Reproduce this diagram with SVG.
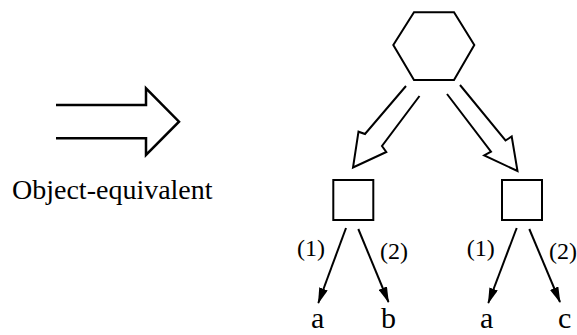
<svg xmlns="http://www.w3.org/2000/svg" width="577" height="335" viewBox="0 0 577 335">
<defs>
<style>
.ln{fill:none;stroke:#000;stroke-width:2;stroke-linejoin:miter}
.bx{fill:#fff;stroke:#000;stroke-width:2}
.t{font-family:"Liberation Serif","Times New Roman",serif;fill:#000}
.big{font-size:28px}
.lt{font-size:30px}
.lb{font-size:24px}
</style>
<marker id="ah" viewBox="0 0 16 9" refX="15" refY="4.5" markerWidth="16" markerHeight="9" markerUnits="userSpaceOnUse" orient="auto">
<path d="M0,0 L16,4.5 L0,9 z" fill="#000"/>
</marker>
</defs>
<rect width="577" height="335" fill="#fff"/>
<g id="equiv-arrow">
<path class="ln" style="stroke-width:2.5" d="M56,105 H146 V88.3 L179,121.7 L146,155 V138.3 H56"/>
<text class="t big" x="12" y="199">Object-equivalent</text>
</g>
<g id="hexagon">
<polygon class="bx" points="414,12.3 454,12.3 474.3,45 454,80 414,80 393.3,45"/>
</g>
<g id="box-left">
<rect class="bx" x="333.3" y="180" width="40" height="40"/>
</g>
<g id="box-right">
<rect class="bx" x="502" y="180" width="40" height="40"/>
</g>
<g id="leaf-a1"><text class="t lt" x="311" y="328">a</text></g>
<g id="leaf-b"><text class="t lt" x="381" y="328">b</text></g>
<g id="leaf-a2"><text class="t lt" x="480" y="328">a</text></g>
<g id="leaf-c"><text class="t lt" x="558" y="328">c</text></g>
<g id="connectors">
<path class="ln" d="M406,86 L365,134 L358.5,131.7 L353,167.5 L386.3,152 L382,146 L419.5,96"/>
<path class="ln" d="M460,85 L505.5,140.5 L511.7,136.5 L517.5,171 L484.2,155.5 L491,151.7 L447,94"/>
<line class="ln" x1="346" y1="228" x2="318.3" y2="303" marker-end="url(#ah)"/>
<line class="ln" x1="358.3" y1="229" x2="388.5" y2="302" marker-end="url(#ah)"/>
<line class="ln" x1="516.7" y1="228" x2="488.3" y2="303" marker-end="url(#ah)"/>
<line class="ln" x1="529.3" y1="229" x2="560" y2="302" marker-end="url(#ah)"/>
<text class="t lb" x="297" y="256">(1)</text>
<text class="t lb" x="380" y="259">(2)</text>
<text class="t lb" x="466.7" y="256">(1)</text>
<text class="t lb" x="549" y="259">(2)</text>
</g>
</svg>
